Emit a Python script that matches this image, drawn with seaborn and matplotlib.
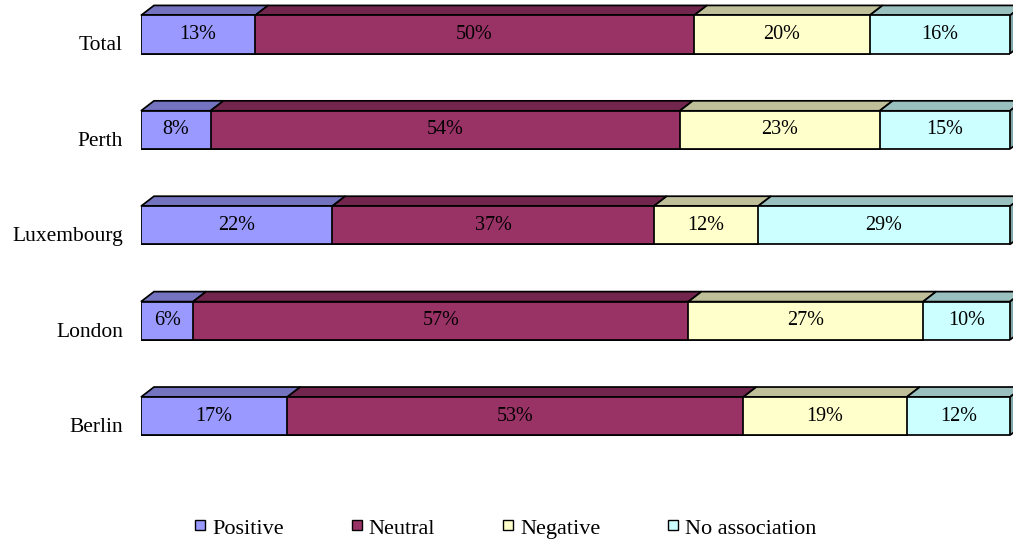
import numpy as np
import pandas as pd
import matplotlib
matplotlib.use("Agg")
import matplotlib.pyplot as plt
import matplotlib.transforms as mtransforms
from matplotlib.patches import Polygon, Rectangle
import seaborn as sns

# ---- data -------------------------------------------------------------
cities = ["Total", "Perth", "Luxembourg", "London", "Berlin"]
series = ["Positive", "Neutral", "Negative", "No association"]
positive = [13, 8, 22, 6, 17]
neutral = [50, 54, 37, 57, 53]
negative = [20, 23, 12, 27, 19]
no_association = [16, 15, 29, 10, 12]

front_colors = ["#9999FF", "#993366", "#FFFFCC", "#CCFFFF"]
top_colors = ["#7373BF", "#73264D", "#BFBF99", "#99BFBF"]
side_color = "#80A6A6"

# ---- layout -----------------------------------------------------------
W, H, DPI = 1013, 539, 100
sns.set_style("white")
plt.rcParams["font.family"] = ["Liberation Serif", "DejaVu Serif"]
plt.rcParams["text.color"] = "black"
plt.rcParams["ytick.color"] = "black"
plt.rcParams["ytick.labelcolor"] = "black"

fig = plt.figure(figsize=(W / DPI, H / DPI), dpi=DPI)
ax_left, ax_right = 141, 1010
ax = fig.add_axes([ax_left / W, 0, (ax_right - ax_left) / W, 1])

values = pd.DataFrame(
    {"Positive": positive, "Neutral": neutral,
     "Negative": negative, "No association": no_association},
    index=cities,
)
shares = values.div(values.sum(axis=1), axis=0) * 100
ends = shares.cumsum(axis=1)
starts = ends - shares

bar_h = 0.4
lw = 1.25
# stacked bars: draw the longest cumulative extent first, shorter ones on top
for k in range(len(series) - 1, -1, -1):
    s = series[k]
    df = pd.DataFrame({"city": cities, "end": ends[s].values})
    sns.barplot(data=df, x="end", y="city", order=cities, orient="h",
                color=front_colors[k], saturation=1, width=bar_h,
                edgecolor="black", linewidth=lw, errorbar=None, ax=ax,
                zorder=3)

# axis scaling: 100% at the right edge, fixed row spacing in pixels
row_px = 95.4
first_px = 34.5
ax.set_xlim(0, 100)
ax.set_ylim((H - first_px) / row_px, -first_px / row_px)

px_x = (ax_right - ax_left) / 100.0
dx = 13 / px_x
dy = 10 / row_px

# 3D top faces and right-hand side face
for i, c in enumerate(cities):
    yt = i - bar_h / 2
    yb = i + bar_h / 2
    for k, s in enumerate(series):
        x0, x1 = starts.loc[c, s], ends.loc[c, s]
        ax.add_patch(Polygon([(x0, yt), (x1, yt), (x1 + dx, yt - dy), (x0 + dx, yt - dy)],
                             closed=True, facecolor=top_colors[k], edgecolor="black",
                             linewidth=lw, zorder=2, clip_on=False))
    xe = ends.loc[c, series[-1]]
    ax.add_patch(Polygon([(xe, yt), (xe + dx, yt - dy), (xe + dx, yb - dy), (xe, yb)],
                         closed=True, facecolor=side_color, edgecolor="black",
                         linewidth=lw, zorder=2, clip_on=False))

    # value labels on the front faces
    for k, s in enumerate(series):
        xm = (starts.loc[c, s] + ends.loc[c, s]) / 2
        ax.text(xm, i, f"{values.loc[c, s]}%", ha="center", va="center",
                fontsize=14.5, color="black", zorder=5)

# axis styling
for sp in ax.spines.values():
    sp.set_visible(False)
ax.set_xticks([])
ax.set_xlabel("")
ax.set_ylabel("")
ax.tick_params(axis="y", length=0, pad=13, labelsize=15.5, labelcolor="black")
shift = mtransforms.ScaledTranslation(0, -9 / DPI, fig.dpi_scale_trans)
for lab in ax.get_yticklabels():
    lab.set_transform(lab.get_transform() + shift)
ax.set_facecolor("white")

# legend row along the bottom: square key, label on a common baseline
renderer = fig.canvas.get_renderer()
leg_fs = 16
key_px, key_gap, entry_gap = 10, 7, 68
x_px = 195
key_top, key_bot = 520, 530
baseline = 534
for k, s in enumerate(series):
    fig.patches.append(Rectangle((x_px / W, (H - key_bot) / H), key_px / W,
                                 (key_bot - key_top) / H, transform=fig.transFigure,
                                 facecolor=front_colors[k], edgecolor="black",
                                 linewidth=1.0, figure=fig))
    t = fig.text((x_px + key_px + key_gap) / W, (H - baseline) / H, s,
                 fontsize=leg_fs, ha="left", va="baseline", color="black")
    w = t.get_window_extent(renderer=renderer).width
    x_px += key_px + key_gap + w + entry_gap

fig.savefig("out.png", dpi=DPI, facecolor="white")
